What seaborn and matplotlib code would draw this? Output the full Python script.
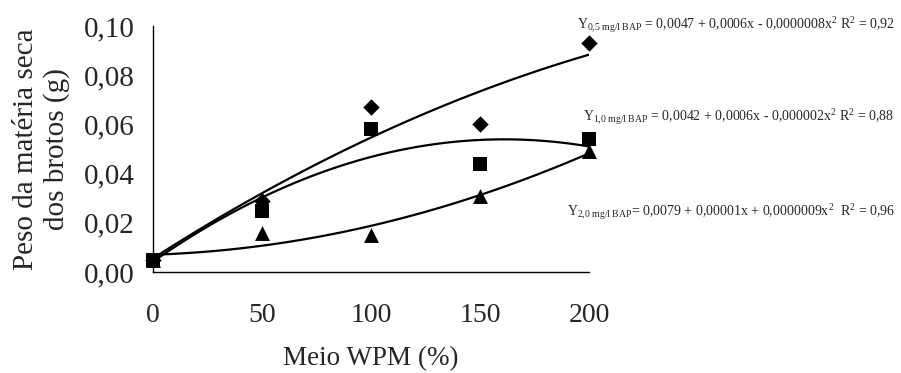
import numpy as np
import pandas as pd
import matplotlib
matplotlib.use("Agg")
import matplotlib.pyplot as plt
import seaborn as sns

# Data
wpm = [0, 50, 100, 150, 200]
bap_05 = [0.005, 0.029, 0.067, 0.060, 0.093]
bap_10 = [0.005, 0.025, 0.058, 0.044, 0.054]
bap_20 = [0.005, 0.016, 0.015, 0.031, 0.049]
series_names = ["0,5 mg/l BAP", "1,0 mg/l BAP", "2,0 mg/l BAP"]
yticks = [0.00, 0.02, 0.04, 0.06, 0.08, 0.10]
ytick_labels = ["0,00", "0,02", "0,04", "0,06", "0,08", "0,10"]
xticks = [0, 50, 100, 150, 200]
equations = [
    r"Y$_{\mathrm{0{,}5\ mg/l\ BAP}}$ = 0,0047 + 0,0006x - 0,0000008x$^{\mathrm{2}}$ R$^{\mathrm{2}}$ = 0,92",
    r"Y$_{\mathrm{1{,}0\ mg/l\ BAP}}$ = 0,0042 + 0,0006x - 0,000002x$^{\mathrm{2}}$ R$^{\mathrm{2}}$ = 0,88",
    r"Y$_{\mathrm{2{,}0\ mg/l\ BAP}}$= 0,0079 + 0,00001x + 0,0000009x$^{\mathrm{2}}$  R$^{\mathrm{2}}$ = 0,96",
]

sns.set_theme(style="white")
plt.rcParams["font.family"] = ["Liberation Serif", "DejaVu Serif"]
plt.rcParams["mathtext.fontset"] = "custom"
plt.rcParams["mathtext.rm"] = "Liberation Serif"
plt.rcParams["mathtext.it"] = "Liberation Serif:italic"
plt.rcParams["mathtext.bf"] = "Liberation Serif:bold"

df = pd.DataFrame({
    "x": wpm * 3,
    "y": bap_05 + bap_10 + bap_20,
    "s": [series_names[0]] * 5 + [series_names[1]] * 5 + [series_names[2]] * 5,
})

fig = plt.figure(figsize=(9.01, 3.73), dpi=100)
ax = fig.add_axes([153 / 901, 1 - 272 / 373, (589 - 153) / 901, (272 - 26) / 373])

markers = {series_names[0]: "D", series_names[1]: "s", series_names[2]: "^"}
sizes = {series_names[0]: 70, series_names[1]: 95, series_names[2]: 115}
for name in series_names:
    sub = df[df["s"] == name]
    sns.regplot(data=sub, x="x", y="y", order=2, ci=None, scatter=False,
                color="black", line_kws={"linewidth": 1.6}, ax=ax, truncate=True)
for name in series_names:
    sub = df[df["s"] == name]
    sns.scatterplot(data=sub, x="x", y="y", marker=markers[name], s=sizes[name],
                    color="black", edgecolor="black", linewidth=0, ax=ax,
                    clip_on=False, zorder=5)

ax.set_xlim(0, 200)
ax.set_ylim(0, 0.10)
ax.set_xticks(xticks)
ax.set_xticklabels([str(v) for v in xticks], fontsize=20)
ax.set_yticks(yticks)
ax.set_yticklabels(ytick_labels, fontsize=21)
for sp in ["top", "right"]:
    ax.spines[sp].set_visible(False)
for sp in ["left", "bottom"]:
    ax.spines[sp].set_color("black")
    ax.spines[sp].set_linewidth(1.0)
ax.tick_params(axis="x", direction="out", length=7, width=1, color="black", pad=15.5)
ax.tick_params(axis="y", direction="out", length=7, width=1, color="black", pad=6)
ax.set_xlabel("Meio WPM (%)", fontsize=19.5, labelpad=12.5)
ax.set_ylabel("Peso da matéria seca\ndos brotos (g)", fontsize=21, labelpad=10, linespacing=1.2)

fig.text(577 / 901, 1 - 25 / 373, equations[0], fontsize=10, ha="left", va="center")
fig.text(583 / 901, 1 - 117 / 373, equations[1], fontsize=10, ha="left", va="center")
fig.text(567 / 901, 1 - 212 / 373, equations[2], fontsize=10, ha="left", va="center")

fig.savefig("out.png", dpi=100)
